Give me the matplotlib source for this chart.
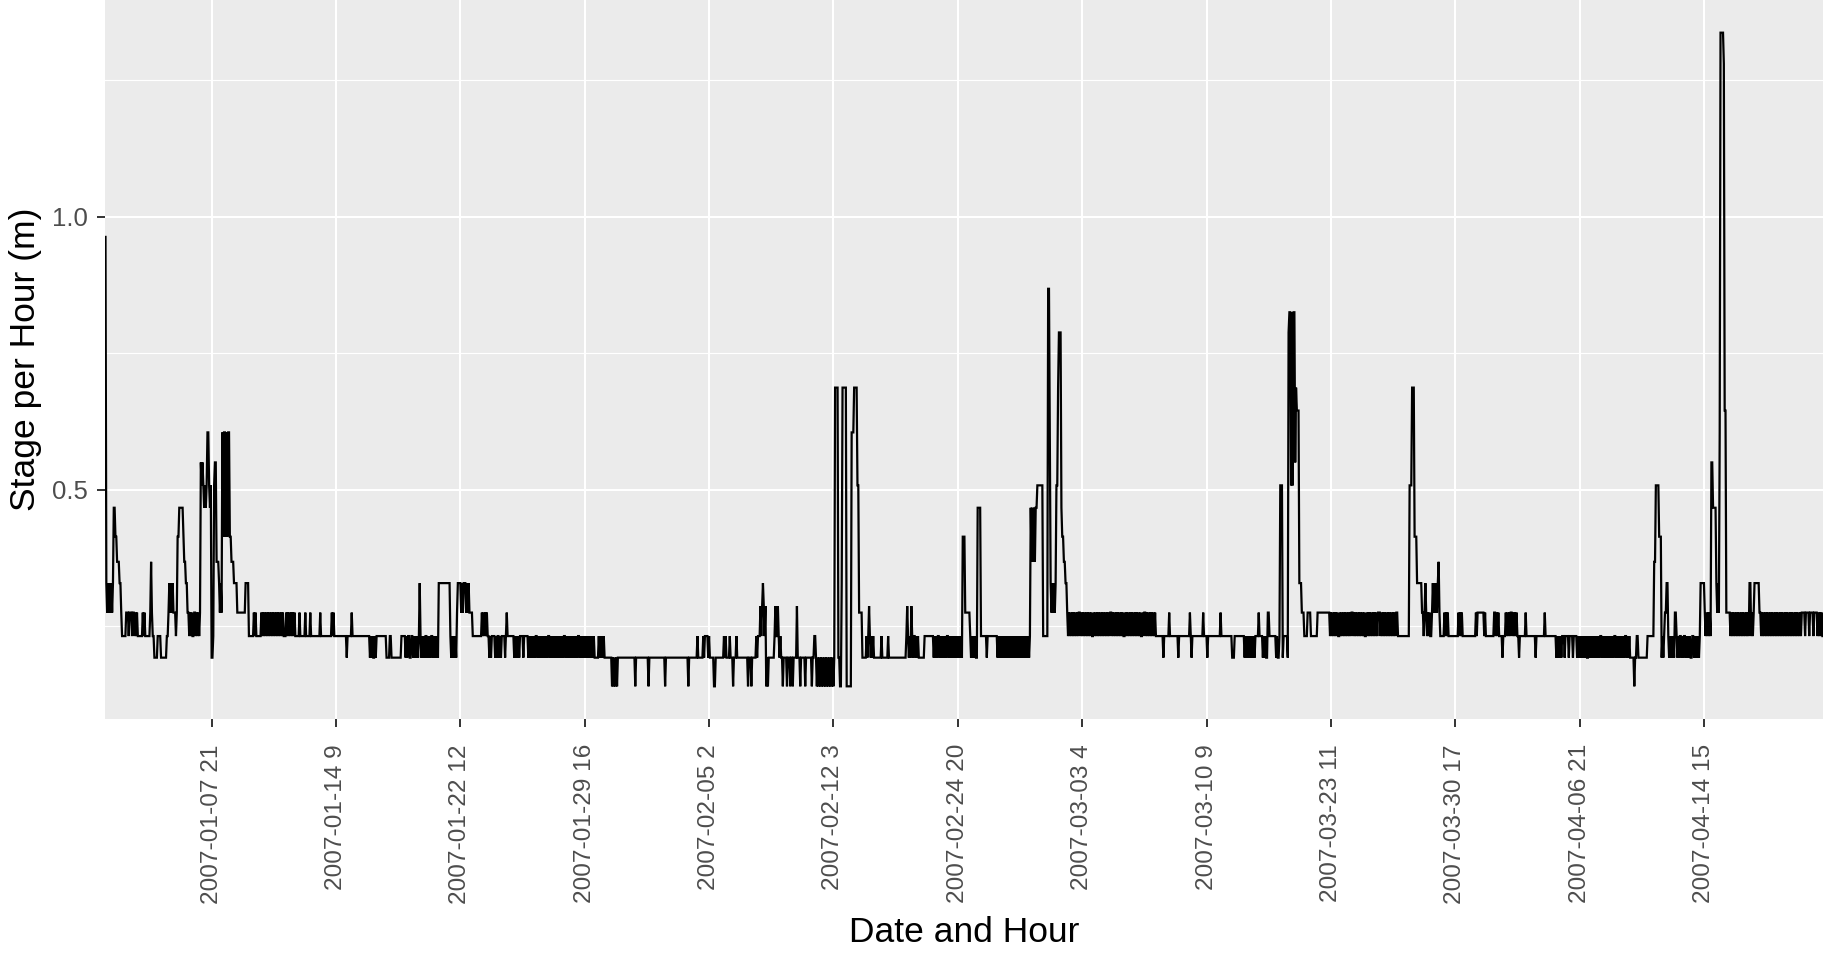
import numpy as np
import matplotlib
matplotlib.use("Agg")
import matplotlib.pyplot as plt

plt.rcParams['font.family'] = ['Liberation Sans', 'DejaVu Sans']

# Stage levels (m), one code character per level
level_codes = list("0123456789abcdefghip")
level_values = [0.140, 0.1925, 0.232, 0.275, 0.329, 0.368, 0.414, 0.467, 0.508,
                0.550, 0.605, 0.645, 0.687, 0.788, 0.825, 0.868, 0.963, 1.337,
                1.280, 0.287]

# Hourly stage record, one code per hour, in time order
stage_jan_a = ("g4343434347766555443" "222223" "332333233" "23232" "222223232222223" "532"
               "2111122221111111223" "434343" "3323" "667" "7777" "6554" "43"
               "323232233232323" "989" "87878" "aa" "878" "112" "899" "555" "4343"
               "a6aa6a6aa" "66555" "4444" "3333333333" "4444" "222222323222222323" "232323232"
               "32323232323232" "32223" "232323232322" "2223222222" "3222223222"
               "22222222322222222222" "22323222222222222222" "122222322")
stage_jan_b = ("2222222222222222222" "121211212" "22222222222" "11112211111111111" "1222"
               "221212211221212121" "242" "121212212121221212121" "44444444444444" "21212121"
               "3444434344434343" "333222" "22222222" "32323232" "2121222212122121222212" "32"
               "2222222" "12121212" "22212222"
               "2121212121" "2212121212" "1212122121" "2121212121" "2121221212" "1212121212"
               "1221212121" "2121212121" "2" "111112121212111")
stage_feb_a = ("111111" "0101010" "111111111111111111111" "0" "111111111111111" "0"
               "1111111111111111111" "0" "111111111111111111111111111" "0"
               "111111111" "1211" "1111" "21222212" "1111" "1001" "11111111" "1212" "1111" "2"
               "111" "0" "111" "2" "1111111111111" "0111011" "111" "21222p2p4p2p010" "1111111"
               "2p22p212" "110111101110110111" "1p1" "110111110111111101" "1221"
               "0101010101010101010101")
stage_feb_b = ("cccc" "11004" "ccccc" "000000" "aaacccc88" "3333" "11111" "212p21212"
               "111111111" "2" "1111111" "2" "111111111111111111111" "2p2121p21221212" "1111111"
               "2222222222" "212121221212121212212121212121212121" "6663" "3333321" "212121" "17777")
stage_mar_a = ("2222222" "1" "22222222222" "2121212121212121212121212121212121212121"
               "27575757" "78888888" "222222" "ffa" "4343434" "88cddd7665544"
               "3232323232" "3232332323" "2323232323" "2232323232" "3232323232" "3233232323"
               "2323232322" "3232323232" "3232323232" "2323323232" "32323232"
               "22222222" "1" "222222" "3" "2222222222" "1" "2222222222222" "3" "2" "1"
               "2222222222222" "3" "2222" "1" "222222222222222" "3" "222222222222" "21112"
               "22222222222" "12121212121212" "222" "3")
stage_mar_b = ("2222" "121211" "33" "22222222" "1211" "2888" "1222221" "dee8e8ee9" "c" "bbb"
               "444" "333" "2222" "3333" "22222222" "33333333333333"
               "3232323232" "3223232323" "2323232332" "3232323232" "3232232323" "2323232323"
               "3323232323" "2323232323" "2"
               "3322222222222222" "888" "ccc" "666" "4444443" "3234323232" "2343434345" "32"
               "2222" "323232" "22222222222" "32323" "2222222222222222" "323333333323"
               "2222222222" "332323" "2222" "1" "222" "32323233232323" "22" "1" "2222222" "3"
               "22222222222" "1" "2222222222" "3" "2222222222222" "1")
stage_apr = ("2121212" "2212222122221222"
             "2121212121" "2121121212" "1212121212" "2121212121" "2121212212" "1212121212" "212121"
             "111101" "1221" "1111111111" "222222" "2255" "88886" "66" "1212" "33" "4421" "212121"
             "33" "2121221212" "2121212112" "21212121" "244444" "32323232" "99" "7777" "4343"
             "a" "hhhh" "i" "bb" "3333" "323232323232323232323232" "442" "323" "4444443"
             "3232323232" "3232323232" "3232323232" "3232323232" "3232323232"
             "3333233332" "3333233332" "323232")

tick_labels = ["2007-01-07 21", "2007-01-14 9", "2007-01-22 12", "2007-01-29 16",
               "2007-02-05 2", "2007-02-12 3", "2007-02-24 20", "2007-03-03 4",
               "2007-03-10 9", "2007-03-23 11", "2007-03-30 17", "2007-04-06 21",
               "2007-04-14 15"]
first_tick = 128
tick_step = 150

level_map = dict(zip(level_codes, level_values))
record = stage_jan_a + stage_jan_b + stage_feb_a + stage_feb_b + stage_mar_a + stage_mar_b + stage_apr
stage = np.array([level_map[c] for c in record])
n = len(stage)
x = np.arange(n)

W, H = 1834, 955
fig = plt.figure(figsize=(W / 100, H / 100), dpi=100)
left, right, top, bottom = 105, 1823, 0, 719
ax = fig.add_axes([left / W, 1 - bottom / H, (right - left) / W, (bottom - top) / H])
ax.set_facecolor('#EBEBEB')
for s in ax.spines.values():
    s.set_visible(False)

ax.plot(x, stage, color='black', lw=1.6, solid_joinstyle='miter')

ax.set_xlim(-0.6, n - 1 + 0.6)
lo, hi = stage.min(), stage.max()
pad = 0.05 * (hi - lo)
ax.set_ylim(lo - pad, hi + pad)

tick_pos = [first_tick + i * tick_step for i in range(len(tick_labels))]
ax.set_xticks(tick_pos)
ax.set_xticklabels(tick_labels, rotation=90)
ax.set_yticks([0.5, 1.0])
ax.set_yticklabels(["0.5", "1.0"])
ax.set_yticks([0.25, 0.75, 1.25], minor=True)

ax.grid(which='major', color='white', lw=1.5)
ax.grid(which='minor', axis='y', color='white', lw=0.8)
ax.set_axisbelow(True)
ax.tick_params(which='major', length=6, width=1.4, color='#333333',
               labelcolor='#4D4D4D')
ax.tick_params(axis='x', which='major', pad=12, labelsize=17.6)
ax.tick_params(axis='y', which='major', pad=6, labelsize=18.5)
ax.tick_params(which='minor', length=0)

fig.text((left + right) / 2 / W, 1 - 932 / H, "Date and Hour", ha='center', va='center',
         fontsize=25.5, color='black')
fig.text(26 / W, 1 - (bottom / 2) / H, "Stage per Hour (m)", ha='center', va='center',
         rotation=90, fontsize=25.5, color='black')

fig.savefig("out.png", dpi=100)
